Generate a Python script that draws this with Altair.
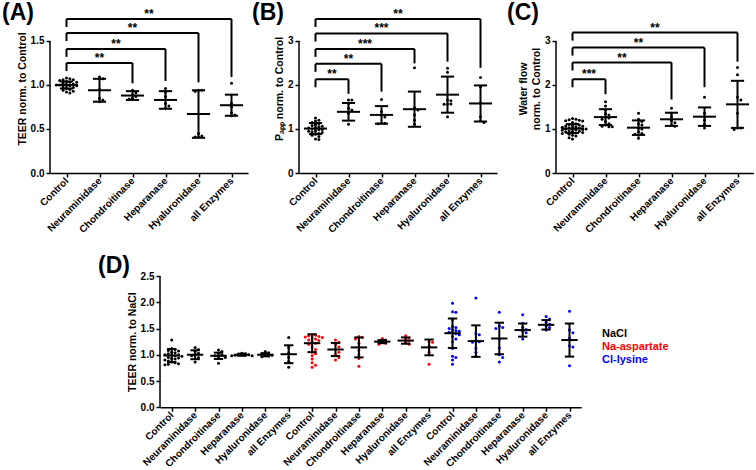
import altair as alt
import pandas as pd

FONT = "Liberation Sans"

ENZYMES = ["Control", "Neuraminidase", "Chondroitinase", "Heparanase",
           "Hyaluronidase", "all Enzymes"]
SERIES = ["NaCl", "Na-aspartate", "Cl-lysine"]
SERIES_COLORS = ["#000000", "#ff0000", "#0000ff"]

# ---------------- (A) TEER normalised to control ----------------
teer_points = [
    [1.08, 1.07, 1.06, 1.06, 1.05, 1.04, 1.03, 1.03, 1.02, 1.01, 1.0, 1.0,
     1.0, 0.99, 0.99, 0.98, 0.97, 0.96, 0.95, 0.94, 0.93, 0.92, 0.91],
    [1.09, 1.07, 0.95, 0.85, 0.83, 0.81],
    [0.94, 0.91, 0.89, 0.87, 0.85, 0.84],
    [0.96, 0.92, 0.87, 0.79, 0.76, 0.735],
    [0.94, 0.94, 0.93, 0.45, 0.42, 0.41, 0.41],
    [1.02, 0.79, 0.75, 0.685, 0.66, 0.65],
]
teer_mean = [1.0, 0.94, 0.88, 0.83, 0.67, 0.77]
teer_sd = [0.04, 0.13, 0.05, 0.10, 0.27, 0.12]
teer_sig_target = [2, 3, 4, 5]
teer_sig_level = [1.25, 1.41, 1.59, 1.75]
teer_sig_end = [1.02, 1.045, 1.03, 1.09]
teer_sig_label = ["**", "**", "**", "**"]

# ---------------- (B) apparent permeability ----------------
papp_points = [
    [1.25, 1.2, 1.18, 1.15, 1.12, 1.1, 1.08, 1.06, 1.05, 1.03, 1.02, 1.0,
     0.99, 0.98, 0.96, 0.95, 0.93, 0.92, 0.9, 0.88, 0.86, 0.83, 0.77, 0.76],
    [1.66, 1.66, 1.58, 1.47, 1.43, 1.36, 1.11],
    [1.67, 1.39, 1.32, 1.27, 1.13, 1.13, 1.12],
    [2.39, 1.48, 1.43, 1.32, 1.2, 1.11],
    [2.38, 2.29, 1.66, 1.64, 1.57, 1.56, 1.57, 1.28],
    [2.17, 1.96, 1.59, 1.28, 1.19, 1.15],
]
papp_mean = [1.01, 1.39, 1.32, 1.45, 1.78, 1.58]
papp_sd = [0.125, 0.2, 0.2, 0.4, 0.41, 0.41]
papp_sig_target = [1, 2, 3, 4, 5]
papp_sig_level = [2.13, 2.48, 2.82, 3.17, 3.5]
papp_sig_end = [1.8, 1.85, 2.49, 2.53, 2.39]
papp_sig_label = ["**", "**", "***", "***", "**"]

# ---------------- (C) water flow ----------------
water_points = [
    [1.24, 1.22, 1.21, 1.2, 1.19, 1.18, 1.15, 1.12, 1.1, 1.09, 1.08, 1.07,
     1.06, 1.05, 1.04, 1.03, 1.02, 1.01, 1.0, 1.0, 0.99, 0.98, 0.97, 0.96,
     0.95, 0.94, 0.93, 0.92, 0.91, 0.9, 0.88, 0.86, 0.84, 0.8, 0.77],
    [1.62, 1.52, 1.43, 1.35, 1.32, 1.27, 1.25, 1.22, 1.17, 1.12, 1.09, 1.06,
     1.05, 1.05],
    [1.36, 1.22, 1.17, 1.12, 1.09, 1.02, 1.0, 0.94, 0.9, 0.88, 0.86, 0.79],
    [1.47, 1.36, 1.28, 1.19, 1.14, 1.09, 1.06],
    [1.72, 1.36, 1.28, 1.2, 1.11, 1.02],
    [2.4, 2.23, 1.72, 1.66, 1.36, 1.02, 1.02, 0.99],
]
water_mean = [1.01, 1.27, 1.03, 1.22, 1.28, 1.56]
water_sd = [0.1, 0.18, 0.165, 0.15, 0.21, 0.535]
water_sig_target = [1, 3, 4, 5]
water_sig_level = [2.13, 2.51, 2.85, 3.19]
water_sig_end = [1.79, 1.67, 1.95, 2.53]
water_sig_label = ["***", "**", "**", "**"]

# ---------------- (D) TEER normalised to NaCl, three buffers ----------------
nacl_points = [
    [1.28, 1.12, 1.1, 1.08, 1.07, 1.05, 1.04, 1.02, 1.0, 1.0, 0.99, 0.98,
     0.97, 0.95, 0.94, 0.93, 0.92, 0.9, 0.88, 0.86, 0.85, 0.83, 0.82, 0.81],
    [1.14, 1.1, 1.06, 1.03, 1.0, 0.98, 0.95, 0.86],
    [1.09, 1.06, 1.03, 1.0, 0.98, 0.96, 0.95, 0.84],
    [1.03, 1.02, 1.01, 1.0, 0.99, 0.98, 0.98],
    [1.06, 1.04, 1.02, 1.0, 0.99, 0.98, 0.96],
    [1.33, 1.14, 1.04, 0.95, 0.87, 0.76],
]
nacl_mean = [0.985, 1.0, 0.98, 1.0, 1.0, 1.01]
nacl_sd = [0.125, 0.085, 0.06, 0.02, 0.03, 0.17]

asp_points = [
    [1.38, 1.37, 1.36, 1.35, 1.34, 1.33, 1.32, 1.3, 1.28, 1.27, 1.25, 1.22,
     1.2, 1.15, 1.1, 1.05, 1.02, 0.98, 0.92, 0.85, 0.8, 0.76],
    [1.28, 1.24, 1.2, 1.15, 1.1, 1.05, 1.0, 0.95, 0.9],
    [1.35, 1.33, 1.3, 1.22, 1.15, 1.08, 1.0, 0.93, 0.78],
    [1.31, 1.28, 1.26, 1.24, 1.22, 1.2],
    [1.36, 1.32, 1.29, 1.26, 1.23, 1.2],
    [1.25, 1.24, 1.16, 1.05, 0.82],
]
asp_mean = [1.22, 1.1, 1.14, 1.25, 1.27, 1.14]
asp_sd = [0.17, 0.125, 0.19, 0.03, 0.06, 0.15]

lys_points = [
    [1.98, 1.82, 1.81, 1.66, 1.54, 1.52, 1.5, 1.48, 1.46, 1.45, 1.43, 1.42,
     1.4, 1.38, 1.35, 1.3, 1.25, 1.12, 0.97, 0.95, 0.9, 0.82],
    [2.08, 1.4, 1.38, 1.27, 1.25, 1.24, 1.12, 1.05, 0.97],
    [1.81, 1.55, 1.52, 1.5, 1.3, 1.13, 1.0, 0.95, 0.86],
    [1.76, 1.6, 1.52, 1.48, 1.45, 1.42, 1.3],
    [1.73, 1.68, 1.62, 1.58, 1.55, 1.52, 1.47],
    [1.83, 1.47, 1.42, 1.32, 1.17, 1.15, 0.79],
]
lys_mean = [1.41, 1.26, 1.31, 1.47, 1.57, 1.28]
lys_sd = [0.28, 0.3, 0.3, 0.125, 0.09, 0.315]


# ---------------- drawing helpers ----------------
DOT_PX = 3.4        # dot diameter used for the swarm layout
LEG_PX = 8          # length of the bracket leg above Control
MEAN_HALF = 0.35    # half width of mean line, in category steps
CAP_HALF = 0.2      # half width of error bar caps, in category steps


def swarm_offsets(values, unit_px, step_px):
    """Deterministic beeswarm: spread overlapping dots sideways."""
    placed = []
    out = [0.0] * len(values)
    order = sorted(range(len(values)), key=lambda i: -values[i])
    cands = [0.0]
    for m in range(1, 30):
        cands += [m * DOT_PX, -m * DOT_PX]
    for i in order:
        y = values[i] * unit_px
        chosen = cands[-1]
        for c in cands:
            if all((c - px) ** 2 + (y - py) ** 2 >= DOT_PX ** 2 * 0.8
                   for py, px in placed):
                chosen = c
                break
        placed.append((y, chosen))
        out[i] = chosen / step_px
    return out


def build_panel(groups, means, sds, y_top, y_ticks, y_format, y_title, tag,
                tag_dx, tag_offset, step_px, height, series_of=None, sig=None):
    n = len(means)
    width = n * step_px
    unit_px = height / y_top
    xs = alt.Scale(domain=[-0.5, n - 0.5], nice=False, zero=False)
    ys = alt.Scale(domain=[0, y_top], nice=False, zero=True)

    rows = []
    for g, vals in enumerate(groups):
        offs = swarm_offsets(vals, unit_px, step_px)
        for v, o in zip(vals, offs):
            rows.append({"idx": g, "value": v, "xpos": g + o,
                         "series": SERIES[series_of[g]] if series_of else "NaCl"})
    pts = pd.DataFrame(rows)

    stats = pd.DataFrame({"idx": list(range(n)), "mean": means, "sd": sds})
    stats["lo"] = stats["mean"] - stats["sd"]
    stats["hi"] = stats["mean"] + stats["sd"]
    stats["cl"] = stats["idx"] - CAP_HALF
    stats["cr"] = stats["idx"] + CAP_HALF
    stats["ml"] = stats["idx"] - MEAN_HALF
    stats["mr"] = stats["idx"] + MEAN_HALF

    names_js = "[" + ",".join("'%s'" % e for e in ENZYMES) + "]"
    x_axis = alt.Axis(
        values=list(range(n)), labelExpr=names_js + "[datum.value % 6]",
        labelAngle=-45, labelAlign="right", labelBaseline="middle",
        labelOverlap=False, labelFlush=False, labelBound=False,
        labelFont=FONT, labelFontSize=10, labelFontWeight="bold",
        labelColor="black", labelPadding=2, title=None, grid=False,
        domain=True, domainColor="black", domainWidth=1.5,
        ticks=True, tickColor="black", tickWidth=1.5, tickSize=4)
    y_axis = alt.Axis(
        values=y_ticks, format=y_format, domain=False, grid=False,
        ticks=True, tickColor="black", tickWidth=1.5, tickSize=4,
        labelFont=FONT, labelFontSize=10, labelFontWeight="bold",
        labelColor="black", labelPadding=2, title=y_title, titleFont=FONT,
        titleFontSize=10.5, titleFontWeight="bold", titleColor="black",
        titlePadding=3)

    def X(f):
        return alt.X(f, type="quantitative", scale=xs, axis=x_axis)

    def Y(f):
        return alt.Y(f, type="quantitative", scale=ys, axis=y_axis)

    if series_of:
        color = alt.Color("series:N", scale=alt.Scale(domain=SERIES,
                          range=SERIES_COLORS), legend=None)
    else:
        color = alt.value("black")

    layers = []
    layers.append(alt.Chart(pts).mark_circle(size=9, opacity=1).encode(
        x=X("xpos"), y=Y("value"), color=color))

    # y axis line stops at the top tick
    axis_line = pd.DataFrame({"a": [y_ticks[0]], "b": [y_ticks[-1]]})
    layers.append(alt.Chart(axis_line).mark_rule(color="black", strokeWidth=1.5)
                  .encode(x=alt.value(0), y=Y("a"), y2="b"))

    rule = dict(color="black", strokeWidth=2)
    base = alt.Chart(stats)
    layers.append(base.mark_rule(**rule).encode(x=X("idx"), y=Y("lo"), y2="hi"))
    layers.append(base.mark_rule(**rule).encode(x=X("cl"), x2="cr", y=Y("hi")))
    layers.append(base.mark_rule(**rule).encode(x=X("cl"), x2="cr", y=Y("lo")))
    layers.append(base.mark_rule(**rule).encode(x=X("ml"), x2="mr", y=Y("mean")))

    if sig:
        target, level, end, label = sig
        br = pd.DataFrame({"target": target, "level": level, "end": end,
                           "label": label})
        br["start"] = 0
        br["leg"] = br["level"] - LEG_PX / unit_px
        br["mid"] = br["target"] / 2.0
        bb = alt.Chart(br)
        layers.append(bb.mark_rule(**rule).encode(x=X("start"), x2="target", y=Y("level")))
        layers.append(bb.mark_rule(**rule).encode(x=X("start"), y=Y("level"), y2="leg"))
        layers.append(bb.mark_rule(**rule).encode(x=X("target"), y=Y("level"), y2="end"))
        layers.append(bb.mark_text(font=FONT, fontSize=12, fontWeight="bold",
                                   color="black", baseline="alphabetic", dy=-1)
                      .encode(x=X("mid"), y=Y("level"), text="label:N"))

    return alt.layer(*layers).properties(
        width=width, height=height,
        title=alt.TitleParams(tag, anchor="start", frame="group", font=FONT,
                              fontSize=23, fontWeight="bold", color="black",
                              baseline="top", offset=tag_offset, dx=tag_dx))


TOP_H = 169
panel_a = build_panel(teer_points, teer_mean, teer_sd, 1.92, [0, 0.5, 1.0, 1.5],
                      ".1f", "TEER norm. to Control", "(A)", -48, -21, 33, TOP_H,
                      sig=(teer_sig_target, teer_sig_level, teer_sig_end, teer_sig_label))
panel_b = build_panel(papp_points, papp_mean, papp_sd, 3.84, [0, 1, 2, 3],
                      "d", "P\u2090\u209a\u209a norm. to Control", "(B)", -47, -21, 33, TOP_H,
                      sig=(papp_sig_target, papp_sig_level, papp_sig_end, papp_sig_label))
panel_c = build_panel(water_points, water_mean, water_sd, 3.84, [0, 1, 2, 3],
                      "d", ["Water flow", "norm. to Control"], "(C)", -49, -21, 33, TOP_H,
                      sig=(water_sig_target, water_sig_level, water_sig_end, water_sig_label))

d_groups = nacl_points + asp_points + lys_points
d_mean = nacl_mean + asp_mean + lys_mean
d_sd = nacl_sd + asp_sd + lys_sd
d_series = [g // 6 for g in range(18)]
panel_d = build_panel(d_groups, d_mean, d_sd, 2.5, [0, 0.5, 1.0, 1.5, 2.0, 2.5],
                      ".1f", "TEER norm. to NaCl", "(D)", -62, -7, 23.4, 131.25,
                      series_of=d_series)

legend = alt.Chart(pd.DataFrame({"name": SERIES})).mark_text(
    align="left", baseline="middle", font=FONT, fontSize=11, fontWeight="bold"
).encode(
    x=alt.value(0),
    y=alt.Y("name:N", sort=SERIES, axis=None,
            scale=alt.Scale(type="point", range=[58, 84], padding=0)),
    text="name:N",
    color=alt.Color("name:N", scale=alt.Scale(domain=SERIES, range=SERIES_COLORS),
                    legend=None),
).properties(width=90, height=131)

spacer = alt.Chart(pd.DataFrame({"v": [0]})).mark_rule(opacity=0).encode(
    x=alt.value(0), x2=alt.value(30), y=alt.value(0)
).properties(width=30, height=10)

top_row = alt.hconcat(panel_a, alt.hconcat(panel_b, panel_c, spacing=10), spacing=4)
bottom_row = alt.hconcat(spacer, alt.hconcat(panel_d, legend, spacing=20), spacing=18)

chart = alt.vconcat(top_row, bottom_row, spacing=20).properties(
    padding={"left": 2, "top": 2, "right": 0, "bottom": 0},
    background="white",
).configure_view(stroke=None)

chart.save("out.html", embed_options={"renderer": "svg", "actions": False})
